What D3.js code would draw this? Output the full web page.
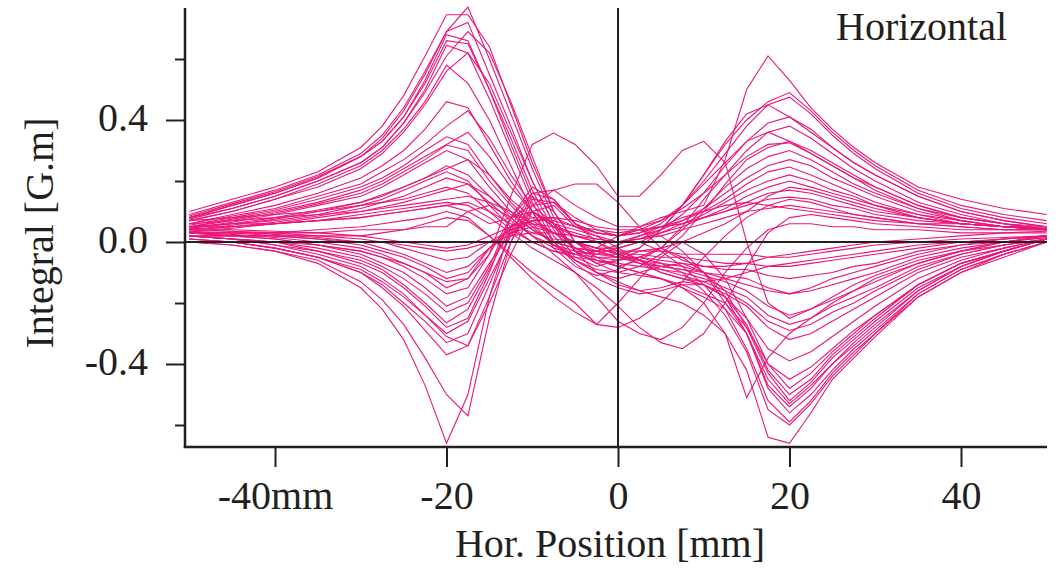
<!DOCTYPE html>
<html>
<head>
<meta charset="utf-8">
<script src="https://cdn.jsdelivr.net/npm/d3@7"></script>
<style>
  html, body { margin: 0; padding: 0; background: #ffffff; }
  svg { display: block; }
  text { font-family: "Liberation Serif", "Times New Roman", serif; fill: #231f20; }
</style>
</head>
<body>
<svg id="chart" width="1061" height="569"></svg>
<script>
// Measurement positions along the horizontal scan [mm]
const positions = [-50,-45,-40,-35,-30,-27.5,-25,-22.5,-20,-17.5,-15,-12.5,-10,-7.5,-5,-2.5,0,2.5,5,7.5,10,12.5,15,17.5,20,22.5,25,27.5,30,35,40,45,50];

// Field integral per scan [G.m], one value per position
const scan01 = [0.10,0.14,0.18,0.23,0.31,0.38,0.48,0.61,0.745,0.745, 0.64,0.45,0.26,0.1,0.0,-0.05,-0.08,-0.1,-0.12,-0.15,-0.18,-0.22,-0.3, -0.48,-0.56,-0.5,-0.42,-0.35,-0.29,-0.17,-0.09,-0.04,0.0];
const scan02 = [0.09,0.13,0.17,0.22,0.29,0.35,0.44,0.56,0.69,0.77, 0.6,0.42,0.24,0.08,-0.03,-0.1,-0.13,-0.16,-0.18,-0.2,-0.24,-0.3,-0.42, -0.64,-0.66,-0.56,-0.45,-0.38,-0.31,-0.18,-0.1,-0.05,0.0];
const scan03 = [0.08,0.12,0.16,0.21,0.28,0.34,0.43,0.55,0.69,0.72, 0.55,0.38,0.2,0.06,-0.03,-0.04,-0.02,0.0,-0.03,-0.08,-0.14,-0.22,-0.35, -0.52,-0.59,-0.52,-0.43,-0.36,-0.3,-0.17,-0.09,-0.04,0.0];
const scan04 = [0.08,0.12,0.16,0.21,0.28,0.33,0.41,0.53,0.68,0.66, 0.5,0.34,0.17,0.04,-0.05,-0.08,-0.06,-0.03,-0.02,-0.05,-0.1,-0.18,-0.3, -0.45,-0.53,-0.47,-0.4,-0.33,-0.27,-0.16,-0.08,-0.03,0.01];
const scan05 = [0.085,0.125,0.165,0.215,0.28,0.33,0.41,0.52,0.66,0.65, 0.5,0.32,0.15,0.02,-0.06,-0.1,-0.12,-0.1,-0.08,-0.07,-0.1,-0.16,-0.28, -0.43,-0.52,-0.46,-0.38,-0.32,-0.26,-0.15,-0.08,-0.03,0.01];
const scan06 = [0.08,0.11,0.15,0.2,0.26,0.31,0.39,0.5,0.645,0.62, 0.47,0.3,0.13,0.0,-0.07,-0.12,-0.15,-0.17,-0.16,-0.14,-0.14,-0.18,-0.27, -0.42,-0.5,-0.45,-0.37,-0.31,-0.25,-0.14,-0.07,-0.03,0.01];
const scan07 = [0.07,0.1,0.14,0.19,0.25,0.3,0.37,0.46,0.58,0.52, 0.4,0.25,0.1,-0.02,-0.08,-0.11,-0.09,-0.05,-0.02,0.0,-0.04,-0.12,-0.25, -0.4,-0.48,-0.43,-0.36,-0.3,-0.24,-0.14,-0.07,-0.03,0.01];
const scan08 = [0.07,0.1,0.14,0.18,0.24,0.29,0.36,0.45,0.56,0.62, 0.52,0.36,0.2,0.06,-0.03,-0.07,-0.06,-0.05,-0.07,-0.1,-0.16,-0.24,-0.36, -0.55,-0.6,-0.53,-0.44,-0.37,-0.3,-0.18,-0.1,-0.04,0.0];
const scan09 = [0.075,0.11,0.15,0.2,0.26,0.31,0.39,0.49,0.61,0.69, 0.62,0.46,0.28,0.1,0.0,-0.02,0.02,0.04,0.02,-0.03,-0.1,-0.2,-0.3, -0.47,-0.54,-0.48,-0.4,-0.34,-0.28,-0.16,-0.08,-0.03,0.01];

const scan10 = [0.06,0.09,0.12,0.16,0.21,0.25,0.3,0.37,0.46,0.44, 0.32,0.2,0.1,0.0,-0.06,-0.09,-0.1,-0.11,-0.12,-0.14,-0.17,-0.2,-0.28, -0.4,-0.45,-0.41,-0.35,-0.29,-0.24,-0.14,-0.07,-0.03,0.01];
const scan11 = [0.06,0.085,0.11,0.15,0.19,0.23,0.27,0.32,0.38,0.43, 0.34,0.22,0.12,0.06,0.04,0.02,-0.02,-0.06,-0.1,-0.12,-0.14,-0.18,-0.25, -0.35,-0.39,-0.36,-0.31,-0.26,-0.21,-0.12,-0.06,-0.02,0.01];
const scan12 = [0.055,0.08,0.105,0.14,0.18,0.21,0.25,0.3,0.345,0.32, 0.22,0.13,0.06,-0.01,-0.06,-0.1,-0.14,-0.16,-0.15,-0.13,-0.14,-0.17,-0.21, -0.28,-0.32,-0.3,-0.26,-0.22,-0.18,-0.1,-0.05,-0.02,0.01];
const scan13 = [0.05,0.075,0.1,0.13,0.17,0.2,0.24,0.28,0.32,0.36, 0.28,0.18,0.1,0.05,0.02,0.0,-0.03,-0.06,-0.09,-0.11,-0.13,-0.16,-0.2, -0.26,-0.29,-0.27,-0.23,-0.2,-0.16,-0.09,-0.04,-0.01,0.01];
const scan14 = [0.05,0.07,0.095,0.125,0.16,0.19,0.23,0.27,0.318,0.3, 0.2,0.12,0.05,-0.01,-0.04,-0.06,-0.07,-0.08,-0.09,-0.1,-0.12,-0.15,-0.18, -0.24,-0.27,-0.25,-0.21,-0.18,-0.15,-0.08,-0.04,-0.01,0.01];
const scan15 = [0.045,0.065,0.09,0.12,0.15,0.18,0.22,0.26,0.3,0.27, 0.18,0.1,0.04,0.0,-0.02,-0.03,-0.05,-0.07,-0.08,-0.09,-0.11,-0.13,-0.16, -0.21,-0.24,-0.22,-0.19,-0.16,-0.13,-0.07,-0.03,-0.01,0.01];
const scan16 = [0.045,0.06,0.08,0.105,0.13,0.155,0.18,0.21,0.24,0.27, 0.22,0.14,0.08,0.03,0.0,-0.02,-0.04,-0.06,-0.08,-0.09,-0.1,-0.11,-0.12, -0.15,-0.17,-0.16,-0.14,-0.12,-0.1,-0.05,-0.02,0.0,0.015];
const scan17 = [0.04,0.055,0.075,0.1,0.13,0.15,0.18,0.21,0.25,0.22, 0.15,0.08,0.02,-0.02,-0.04,-0.05,-0.05,-0.05,-0.06,-0.07,-0.08,-0.09,-0.09, -0.11,-0.12,-0.11,-0.1,-0.08,-0.07,-0.03,-0.01,0.0,0.015];
const scan18 = [0.04,0.05,0.065,0.085,0.11,0.13,0.15,0.18,0.21,0.19, 0.13,0.07,0.02,-0.01,-0.03,-0.04,-0.04,-0.04,-0.05,-0.05,-0.06,-0.07,-0.07, -0.08,-0.08,-0.07,-0.06,-0.05,-0.04,-0.02,0.0,0.01,0.02];
const scan19 = [0.035,0.045,0.06,0.08,0.1,0.115,0.13,0.15,0.17,0.19, 0.15,0.09,0.04,0.0,-0.02,-0.03,-0.03,-0.03,-0.03,-0.04,-0.04,-0.04,-0.04, -0.05,-0.05,-0.04,-0.03,-0.02,-0.01,0.0,0.01,0.015,0.02];

const scan20 = [0.0,-0.01,-0.03,-0.07,-0.15,-0.22,-0.32,-0.47,-0.66,-0.5, -0.18,0.05,0.16,0.14,0.06,0.03,0.02,0.05,0.08,0.1,0.12,0.27,0.5, 0.61,0.53,0.44,0.37,0.31,0.26,0.18,0.14,0.11,0.09];
const scan21 = [0.0,-0.01,-0.03,-0.06,-0.13,-0.19,-0.27,-0.38,-0.5,-0.57, -0.25,0.0,0.14,0.13,0.06,0.0,-0.04,-0.02,0.04,0.12,0.22,0.32,0.4, 0.46,0.49,0.43,0.36,0.3,0.25,0.17,0.12,0.09,0.07];
const scan22 = [0.01,0.0,-0.02,-0.05,-0.1,-0.15,-0.21,-0.29,-0.37,-0.34, -0.18,0.0,0.12,0.13,0.08,0.04,0.02,0.03,0.06,0.12,0.2,0.29,0.38, 0.45,0.475,0.42,0.35,0.29,0.24,0.16,0.11,0.08,0.06];
const scan23 = [0.01,0.0,-0.02,-0.05,-0.1,-0.14,-0.2,-0.26,-0.33,-0.3, -0.14,0.03,0.15,0.1,0.0,-0.04,-0.05,-0.02,0.04,0.12,0.22,0.33,0.42, 0.45,0.41,0.36,0.31,0.26,0.22,0.15,0.1,0.07,0.05];
const scan24 = [0.02,0.01,-0.01,-0.04,-0.08,-0.12,-0.17,-0.24,-0.31,-0.34, -0.2,-0.04,0.1,0.12,0.05,0.02,0.0,0.01,0.04,0.09,0.16,0.25,0.33, 0.39,0.41,0.37,0.31,0.26,0.22,0.15,0.1,0.07,0.05];
const scan25 = [0.01,0.0,-0.02,-0.05,-0.09,-0.13,-0.18,-0.24,-0.3,-0.26, -0.12,0.02,0.1,0.06,-0.02,-0.06,-0.08,-0.06,-0.02,0.05,0.14,0.22,0.3, 0.36,0.38,0.34,0.29,0.24,0.2,0.13,0.09,0.06,0.05];
const scan26 = [0.02,0.01,-0.01,-0.03,-0.07,-0.1,-0.15,-0.21,-0.28,-0.25, -0.1,0.08,0.18,0.14,0.06,0.03,0.02,0.04,0.07,0.12,0.19,0.26,0.33, 0.36,0.33,0.29,0.25,0.21,0.18,0.12,0.08,0.06,0.04];
const scan27 = [0.02,0.01,0.0,-0.03,-0.06,-0.09,-0.14,-0.2,-0.265,-0.22, -0.09,0.05,0.1,0.05,-0.03,-0.07,-0.1,-0.08,-0.04,0.02,0.1,0.19,0.27, 0.31,0.33,0.3,0.26,0.22,0.18,0.12,0.08,0.06,0.04];
const scan28 = [0.02,0.01,0.0,-0.02,-0.05,-0.08,-0.12,-0.17,-0.23,-0.2, -0.08,0.08,0.16,0.17,0.12,0.08,0.05,0.05,0.07,0.11,0.16,0.22,0.28, 0.32,0.325,0.29,0.25,0.21,0.17,0.11,0.08,0.06,0.04];
const scan29 = [0.03,0.02,0.01,-0.01,-0.04,-0.07,-0.1,-0.15,-0.21,-0.18, -0.07,0.03,0.07,0.03,-0.02,-0.05,-0.06,-0.05,-0.02,0.04,0.11,0.18,0.24, 0.28,0.3,0.27,0.23,0.19,0.16,0.11,0.07,0.05,0.04];
const scan30 = [0.03,0.02,0.01,-0.01,-0.03,-0.05,-0.08,-0.12,-0.17,-0.15, -0.04,0.08,0.1,0.06,0.02,0.0,0.0,0.02,0.04,0.07,0.11,0.16,0.21, 0.25,0.27,0.25,0.21,0.18,0.15,0.1,0.07,0.05,0.04];
const scan31 = [0.03,0.025,0.015,0.0,-0.02,-0.04,-0.07,-0.1,-0.15,-0.12, -0.02,0.05,0.08,0.08,0.05,0.03,0.02,0.03,0.05,0.07,0.1,0.14,0.19, 0.23,0.246,0.22,0.19,0.16,0.13,0.09,0.07,0.05,0.04];
const scan32 = [0.035,0.03,0.02,0.01,-0.01,-0.03,-0.05,-0.08,-0.12,-0.1, -0.02,0.03,0.05,0.03,0.0,-0.02,-0.02,0.0,0.03,0.06,0.09,0.13,0.17, 0.2,0.22,0.2,0.17,0.15,0.12,0.09,0.06,0.05,0.04];
const scan33 = [0.04,0.035,0.025,0.015,0.0,-0.02,-0.04,-0.07,-0.1,-0.08, -0.02,0.04,0.07,0.07,0.05,0.04,0.03,0.04,0.05,0.06,0.08,0.11,0.15, 0.18,0.2,0.18,0.16,0.14,0.12,0.08,0.06,0.05,0.045];
const scan34 = [0.04,0.035,0.03,0.02,0.01,0.0,-0.02,-0.04,-0.06,-0.05, 0.0,0.04,0.06,0.05,0.03,0.01,0.0,0.01,0.03,0.05,0.08,0.1,0.13, 0.16,0.17,0.16,0.14,0.12,0.1,0.08,0.06,0.05,0.045];
const scan35 = [0.045,0.04,0.035,0.03,0.02,0.01,0.0,-0.01,-0.02,-0.01, 0.02,0.05,0.07,0.08,0.07,0.05,0.04,0.04,0.05,0.06,0.08,0.1,0.12, 0.14,0.147,0.14,0.12,0.11,0.09,0.07,0.06,0.05,0.045];

const scan36 = [0.02,0.01,0.0,-0.01,-0.03,-0.05,-0.07,-0.1,-0.13,-0.12, -0.04,0.15,0.32,0.357,0.32,0.25,0.15,0.15,0.22,0.3,0.33,0.26,0.0, -0.2,-0.25,-0.22,-0.18,-0.14,-0.11,-0.06,-0.03,0.0,0.02];
const scan37 = [0.05,0.05,0.06,0.07,0.08,0.09,0.1,0.11,0.12,0.1, 0.06,0.08,0.12,0.17,0.19,0.19,0.13,0.05,-0.02,-0.06,-0.08,-0.08,-0.07, -0.05,-0.04,-0.03,-0.02,-0.01,0.0,0.01,0.02,0.03,0.035];
const scan38 = [0.05,0.06,0.07,0.09,0.12,0.14,0.17,0.2,0.23,0.2, 0.12,0.05,0.0,-0.03,-0.05,-0.06,-0.08,-0.1,-0.12,-0.15,-0.2,-0.3,-0.51, -0.38,-0.3,-0.25,-0.2,-0.16,-0.12,-0.07,-0.03,0.0,0.02];
const scan39 = [0.02,0.02,0.02,0.02,0.02,0.03,0.04,0.06,0.08,0.07, 0.02,-0.05,-0.12,-0.18,-0.23,-0.27,-0.28,-0.25,-0.2,-0.13,-0.05,0.02,0.08, 0.12,0.14,0.13,0.11,0.09,0.08,0.06,0.05,0.04,0.04];
const scan40 = [0.04,0.05,0.06,0.07,0.09,0.1,0.11,0.12,0.13,0.12, 0.08,0.03,-0.02,-0.06,-0.1,-0.15,-0.21,-0.28,-0.33,-0.35,-0.3,-0.2,-0.08, 0.03,0.08,0.09,0.08,0.07,0.06,0.05,0.04,0.04,0.04];
const scan41 = [0.03,0.03,0.03,0.03,0.04,0.04,0.04,0.05,0.05,0.1, 0.12,0.08,0.02,-0.04,-0.1,-0.18,-0.26,-0.3,-0.32,-0.28,-0.2,-0.1,-0.02, 0.04,0.06,0.06,0.05,0.05,0.04,0.04,0.03,0.03,0.03];
const scan42 = [0.03,0.03,0.03,0.04,0.05,0.06,0.07,0.08,0.1,0.08, 0.02,-0.04,-0.1,-0.15,-0.2,-0.27,-0.2,-0.12,-0.05,0.0,0.03,0.06,0.1, 0.15,0.18,0.17,0.15,0.13,0.11,0.08,0.06,0.05,0.04];
const scan43 = [0.06,0.07,0.08,0.09,0.1,0.11,0.12,0.13,0.14,0.15, 0.13,0.1,0.06,0.03,0.0,-0.03,-0.05,-0.06,-0.07,-0.08,-0.1,-0.12,-0.14, -0.16,-0.17,-0.15,-0.12,-0.1,-0.08,-0.04,-0.01,0.01,0.02];
const scan44 = [0.02,0.02,0.02,0.01,0.0,0.0,-0.01,-0.02,-0.03,-0.02, 0.0,0.02,0.03,0.03,0.02,0.01,0.0,0.01,0.02,0.04,0.06,0.08,0.1, 0.11,0.12,0.11,0.1,0.09,0.08,0.06,0.05,0.04,0.04];
const scan45 = [0.07,0.08,0.09,0.1,0.12,0.13,0.14,0.16,0.18,0.16, 0.1,0.04,0.0,-0.03,-0.04,-0.03,-0.01,0.02,0.05,0.08,0.1,0.12,0.13, 0.12,0.11,0.1,0.09,0.08,0.07,0.06,0.06,0.05,0.05];
const scan46 = [0.05,0.06,0.06,0.07,0.08,0.09,0.1,0.11,0.12,0.13, 0.1,0.06,0.03,0.01,0.0,-0.02,-0.04,-0.07,-0.1,-0.12,-0.13,-0.12,-0.1, -0.08,-0.07,-0.06,-0.05,-0.04,-0.03,-0.01,0.0,0.01,0.02];

const scans = [scan01,scan02,scan03,scan04,scan05,scan06,scan07,scan08,scan09,scan10,
  scan11,scan12,scan13,scan14,scan15,scan16,scan17,scan18,scan19,scan20,
  scan21,scan22,scan23,scan24,scan25,scan26,scan27,scan28,scan29,scan30,
  scan31,scan32,scan33,scan34,scan35,scan36,scan37,scan38,scan39,scan40,
  scan41,scan42,scan43,scan44,scan45,scan46];

const xTicks = [-40,-20,0,20,40];
const xTickLabels = ["-40mm","-20","0","20","40"];
const yMajorTicks = [-0.4,0,0.4];
const yTickLabels = ["-0.4","0.0","0.4"];
const yMinorTicks = [-0.6,-0.2,0.2,0.6];

const title = "Horizontal";
const xTitle = "Hor. Position [mm]";
const yTitle = "Integral [G.m]";

// Layout
const plotTop = 8, plotBottom = 447, axisX = 185, plotRight = 1047;
const ink = "#231f20";
const lineColor = "#e8177a";

const svg = d3.select("#chart");

const x = d3.scaleLinear().domain([-50, 50]).range([189.25, 1046.75]);
const y = d3.scaleLinear().domain([-0.4, 0.4]).range([364, 120]);

// Scan traces
const line = d3.line()
  .x((d, i) => x(positions[i]))
  .y(d => y(d));

svg.append("g")
  .selectAll("path")
  .data(scans)
  .join("path")
  .attr("d", line)
  .attr("fill", "none")
  .attr("stroke", lineColor)
  .attr("stroke-width", 1.1)
  .attr("stroke-linejoin", "miter");

// Zero reference lines
svg.append("line")
  .attr("x1", axisX).attr("x2", plotRight)
  .attr("y1", y(0)).attr("y2", y(0))
  .attr("stroke", ink).attr("stroke-width", 2);
svg.append("line")
  .attr("x1", x(0)).attr("x2", x(0))
  .attr("y1", plotTop).attr("y2", plotBottom)
  .attr("stroke", ink).attr("stroke-width", 2);

// Y axis: major ticks with labels, minor ticks without
const yAxisMajor = d3.axisLeft(y).tickValues(yMajorTicks).tickSize(19)
  .tickFormat((d, i) => yTickLabels[i]).tickPadding(18);
const yAxisMinor = d3.axisLeft(y).tickValues(yMinorTicks).tickSize(10).tickFormat("");

const gyMin = svg.append("g").attr("transform", `translate(${axisX},0)`).call(yAxisMinor);
const gy = svg.append("g").attr("transform", `translate(${axisX},0)`).call(yAxisMajor);
[gy, gyMin].forEach(g => {
  g.select(".domain").remove();
  g.selectAll(".tick line").attr("stroke", ink).attr("stroke-width", 2);
});
gy.selectAll(".tick text")
  .attr("font-size", 40)
  .attr("fill", ink)
  .attr("dy", "0.25em");

svg.append("line")
  .attr("x1", axisX).attr("x2", axisX)
  .attr("y1", plotTop).attr("y2", plotBottom + 1)
  .attr("stroke", ink).attr("stroke-width", 2.5);

// X axis
const xAxis = d3.axisBottom(x).tickValues(xTicks).tickSize(20).tickPadding(14)
  .tickFormat((d, i) => xTickLabels[i]);
const gx = svg.append("g").attr("transform", `translate(0,${plotBottom})`).call(xAxis);
gx.select(".domain").remove();
gx.selectAll(".tick line").attr("stroke", ink).attr("stroke-width", 2);
gx.selectAll(".tick text")
  .attr("font-size", 40)
  .attr("fill", ink);

svg.append("line")
  .attr("x1", axisX - 1.25).attr("x2", plotRight)
  .attr("y1", plotBottom).attr("y2", plotBottom)
  .attr("stroke", ink).attr("stroke-width", 2.5);

// Titles
svg.append("text")
  .attr("x", 836).attr("y", 40)
  .attr("font-size", 40)
  .text(title);

svg.append("text")
  .attr("x", 610).attr("y", 557)
  .attr("text-anchor", "middle")
  .attr("font-size", 40)
  .text(xTitle);

svg.append("text")
  .attr("transform", "translate(53,233) rotate(-90)")
  .attr("text-anchor", "middle")
  .attr("font-size", 40)
  .text(yTitle);
</script>
</body>
</html>
